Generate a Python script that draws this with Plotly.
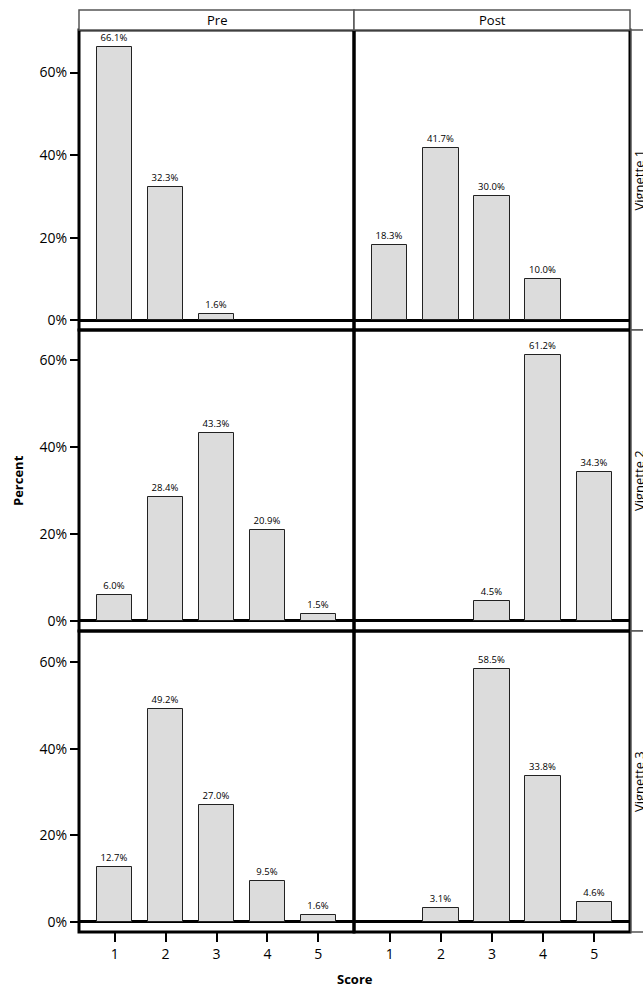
import plotly.graph_objects as go
from plotly.subplots import make_subplots

scores = [1, 2, 3, 4, 5]
periods = ["Pre", "Post"]
vignettes = ["Vignette 1", "Vignette 2", "Vignette 3"]

pre_v1 = [66.1, 32.3, 1.6, None, None]
post_v1 = [18.3, 41.7, 30.0, 10.0, None]
pre_v2 = [6.0, 28.4, 43.3, 20.9, 1.5]
post_v2 = [None, None, 4.5, 61.2, 34.3]
pre_v3 = [12.7, 49.2, 27.0, 9.5, 1.6]
post_v3 = [None, 3.1, 58.5, 33.8, 4.6]

data = [[pre_v1, post_v1], [pre_v2, post_v2], [pre_v3, post_v3]]
y_tops = [70.3, 66.9, 67.2]
y_bottom = -2.35

W, H = 643, 987
FONT = "Open Sans"
col_px = [(79, 354), (354, 630)]
row_px = [(30, 330), (330, 631), (631, 932)]

fig = make_subplots(rows=3, cols=2, horizontal_spacing=0, vertical_spacing=0)

for r in range(3):
    for c in range(2):
        vals = data[r][c]
        fig.add_trace(go.Bar(
            x=scores, y=vals, width=0.69,
            marker=dict(color="#dcdcdc", line=dict(color="#222222", width=1)),
            text=[None if v is None else f"{v:.1f}%" for v in vals],
            textposition="outside", cliponaxis=False,
            textfont=dict(size=9.5, color="black", family=FONT),
            showlegend=False, hoverinfo="skip",
        ), row=r + 1, col=c + 1)
        x0, x1 = col_px[c]
        y0, y1 = row_px[r]
        fig.update_xaxes(
            domain=[x0 / W, x1 / W], range=[0.3, 5.7],
            showline=False, showgrid=False, zeroline=False,
            tickvals=scores, ticktext=[str(s) for s in scores],
            showticklabels=(r == 2), ticks="outside" if r == 2 else "",
            ticklen=9, tickwidth=2, tickcolor="black",
            tickfont=dict(size=14, family=FONT, color="black"),
            row=r + 1, col=c + 1)
        fig.update_yaxes(
            domain=[(H - y1) / H, (H - y0) / H], range=[y_bottom, y_tops[r]],
            showline=False, showgrid=False,
            zeroline=True, zerolinecolor="black", zerolinewidth=2.5,
            tickvals=[0, 20, 40, 60], ticktext=["0%", "20%", "40%", "60%"],
            showticklabels=(c == 0), ticks="outside" if c == 0 else "",
            ticklen=8, tickwidth=2, tickcolor="black",
            tickfont=dict(size=14, family=FONT, color="black"),
            row=r + 1, col=c + 1)

shapes = []
annotations = []
# panel borders
for r in range(3):
    for c in range(2):
        x0, x1 = col_px[c]
        y0, y1 = row_px[r]
        shapes.append(dict(type="rect", xref="paper", yref="paper",
                           x0=x0 / W, x1=x1 / W, y0=(H - y1) / H, y1=(H - y0) / H,
                           line=dict(color="black", width=3), layer="above"))
# top strips
for c, name in enumerate(periods):
    x0, x1 = col_px[c]
    shapes.append(dict(type="rect", xref="paper", yref="paper",
                       x0=x0 / W, x1=x1 / W, y0=(H - 30) / H, y1=(H - 10) / H,
                       fillcolor="white", line=dict(color="#555555", width=1.5)))
    annotations.append(dict(text=name, xref="paper", yref="paper",
                            x=(x0 + x1) / 2 / W, y=(H - 20) / H, showarrow=False,
                            xanchor="center", yanchor="middle",
                            font=dict(size=13, family=FONT, color="black")))
# right strips
for r, name in enumerate(vignettes):
    y0, y1 = row_px[r]
    shapes.append(dict(type="rect", xref="paper", yref="paper",
                       x0=631 / W, x1=651 / W, y0=(H - y1) / H, y1=(H - y0) / H,
                       fillcolor="white", line=dict(color="#555555", width=1.5)))
    annotations.append(dict(text=name, xref="paper", yref="paper",
                            x=638.5 / W, y=(H - (y0 + y1) / 2) / H, showarrow=False,
                            textangle=-90, xanchor="center", yanchor="middle",
                            font=dict(size=13, family=FONT, color="black")))

annotations.append(dict(text="<b>Percent</b>", xref="paper", yref="paper",
                        x=18 / W, y=(H - 481) / H, showarrow=False, textangle=-90,
                        xanchor="center", yanchor="middle",
                        font=dict(size=13, family=FONT, color="black")))
annotations.append(dict(text="<b>Score</b>", xref="paper", yref="paper",
                        x=355 / W, y=(H - 979) / H, showarrow=False,
                        xanchor="center", yanchor="middle",
                        font=dict(size=13, family=FONT, color="black")))

fig.update_layout(
    width=W, height=H, margin=dict(l=0, r=0, t=0, b=0),
    paper_bgcolor="white", plot_bgcolor="white",
    shapes=shapes, annotations=annotations,
    font=dict(family=FONT, color="black"), bargap=0,
)

fig.write_html("out.html", config={"displayModeBar": False},
               post_script="document.body.style.margin='0';document.body.style.overflow='hidden';")
